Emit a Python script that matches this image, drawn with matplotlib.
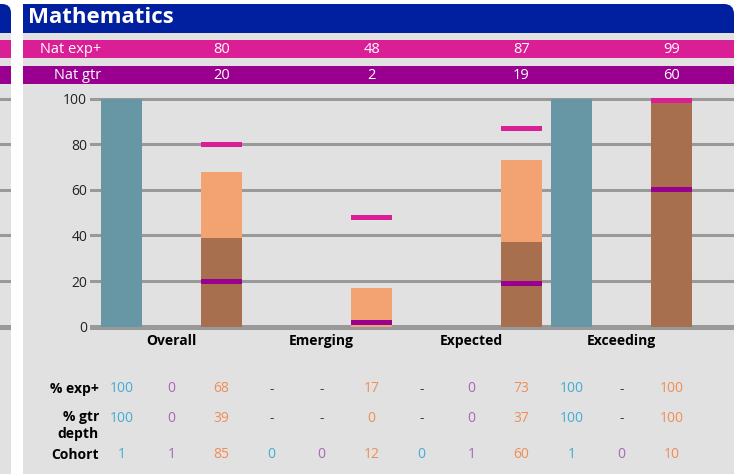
import matplotlib
matplotlib.use("Agg")
import matplotlib.pyplot as plt
from matplotlib import transforms
from matplotlib.patches import Rectangle, FancyBboxPatch

W, H = 734, 474

# ---- data ----
title = "Mathematics"
categories = ["Overall", "Emerging", "Expected", "Exceeding"]
nat_exp = [80, 48, 87, 99]
nat_gtr = [20, 2, 19, 60]

# three columns per category: teal, purple, orange (None = "-")
pct_exp = [100, 0, 68, None, None, 17, None, 0, 73, 100, None, 100]
pct_gtr = [100, 0, 39, None, None, 0, None, 0, 37, 100, None, 100]
cohort = [1, 1, 85, 0, 0, 12, 0, 1, 60, 1, 0, 10]
row_labels = ["% exp+", "% gtr\ndepth", "Cohort"]
y_ticks = [0, 20, 40, 60, 80, 100]

# ---- colours ----
GRAY_BG = "#e1e1e1"
GRID = "#999999"
BLUE_HEAD = "#00209f"
PINK = "#da1e96"
PURPLE = "#990090"
bar_light = ["#6797a5", "#a966b8", "#f3a271"]
bar_dark = ["#6797a5", "#a966b8", "#a86f4e"]
text_cols = ["#45acd4", "#a966b8", "#f08e58"]

plt.rcParams["font.family"] = ["Open Sans", "DejaVu Sans"]

fig = plt.figure(figsize=(W / 100, H / 100), dpi=100, facecolor="white")

# background axes in pixel coordinates
bg = fig.add_axes([0, 0, 1, 1], zorder=0)
bg.set_xlim(0, W)
bg.set_ylim(H, 0)
bg.axis("off")

# left (previous) panel and main panel backgrounds
bg.add_patch(Rectangle((0, 33), 11, H - 33, color=GRAY_BG, lw=0))
bg.add_patch(Rectangle((23, 33), W - 23, H - 33, color=GRAY_BG, lw=0))

# headers with rounded top-right corners
bg.add_patch(FancyBboxPatch((-20, 4), 31, 29, boxstyle="round,pad=0,rounding_size=9",
                            color=BLUE_HEAD, lw=0))
bg.add_patch(Rectangle((-20, 18), 31, 15, color=BLUE_HEAD, lw=0))
bg.add_patch(FancyBboxPatch((23, 4), W - 23, 29, boxstyle="round,pad=0,rounding_size=10",
                            color=BLUE_HEAD, lw=0))
bg.add_patch(Rectangle((23, 18), W - 23, 15, color=BLUE_HEAD, lw=0))
bg.add_patch(Rectangle((23, 4), 40, 29, color=BLUE_HEAD, lw=0))
bg.text(28, 17, title, color="white", fontsize=16, fontweight="bold", va="center", ha="left")

# national bands
for x0, w in [(0, 11), (23, W - 23)]:
    bg.add_patch(Rectangle((x0, 40), w, 18, color=PINK, lw=0))
    bg.add_patch(Rectangle((x0, 66), w, 18, color=PURPLE, lw=0))
bg.text(101, 49, "Nat exp+", color="white", fontsize=10.5, ha="right", va="center")
bg.text(101, 75, "Nat gtr", color="white", fontsize=10.5, ha="right", va="center")

# ---- main chart axes ----
ax_bottom, ax_top = 335, 90
y_zero, px_per_unit = 326.7, 2.28
ylim = ((y_zero - ax_bottom) / px_per_unit, (y_zero - ax_top) / px_per_unit)
ax = fig.add_axes([90 / W, (H - ax_bottom) / H, (W - 90) / W, (ax_bottom - ax_top) / H], zorder=1)
ax.patch.set_alpha(0)
ax.set_xlim((90 - 121.5) / 50, (W - 121.5) / 50)
ax.set_ylim(*ylim)
for s in ax.spines.values():
    s.set_visible(False)
ax.set_xticks([])
ax.set_yticks(y_ticks)
ax.tick_params(axis="y", length=0, pad=2, labelsize=10, labelcolor="#222222")

# left panel gridlines
ax_left = fig.add_axes([0, (H - ax_bottom) / H, 11 / W, (ax_bottom - ax_top) / H], zorder=1)
ax_left.set_ylim(*ylim)
ax_left.axis("off")

for a in (ax, ax_left):
    for v in y_ticks:
        a.axhline(v, color=GRID, lw=3.6 if v == 0 else 2.2, zorder=0)

# bars
width = 0.82
for i, (e, g) in enumerate(zip(pct_exp, pct_gtr)):
    k = i % 3
    if e:
        ax.bar(i, e, width=width, color=bar_light[k], zorder=2)
    if g:
        ax.bar(i, g, width=width, color=bar_dark[k], zorder=3)

# national markers on the orange columns
mark_h = 2.2
for j in range(len(categories)):
    x = 3 * j + 2
    ax.bar(x, mark_h, bottom=nat_exp[j] - mark_h / 2, width=width, color=PINK, zorder=4)
    ax.bar(x, mark_h, bottom=nat_gtr[j] - mark_h / 2, width=width, color=PURPLE, zorder=4)

# ---- text in data-x / pixel-y ----
tr = transforms.blended_transform_factory(ax.transData, bg.transData)
for j, cat in enumerate(categories):
    x = 3 * j + 2
    bg.text(x, 49, str(nat_exp[j]), transform=tr, color="white", fontsize=10.5, ha="center", va="center")
    bg.text(x, 75, str(nat_gtr[j]), transform=tr, color="white", fontsize=10.5, ha="center", va="center")
    bg.text(3 * j + 1, 341, cat, transform=tr, color="black", fontsize=10, fontweight="bold",
            ha="center", va="center")

row_y = [389, 418.5, 455]
bg.text(99, row_y[0], row_labels[0], fontsize=10, fontweight="bold", ha="right", va="center")
bg.text(99, row_y[1] - 9, row_labels[1], fontsize=10, fontweight="bold", ha="right", va="top",
        linespacing=1.3)
bg.text(99, row_y[2], row_labels[2], fontsize=10, fontweight="bold", ha="right", va="center")

for r, row in enumerate([pct_exp, pct_gtr, cohort]):
    for i, v in enumerate(row):
        txt = "-" if v is None else str(v)
        col = "#444444" if v is None else text_cols[i % 3]
        bg.text(i, row_y[r], txt, transform=tr, color=col, fontsize=10, ha="center", va="center")

fig.savefig("out.png", dpi=100, facecolor="white")
